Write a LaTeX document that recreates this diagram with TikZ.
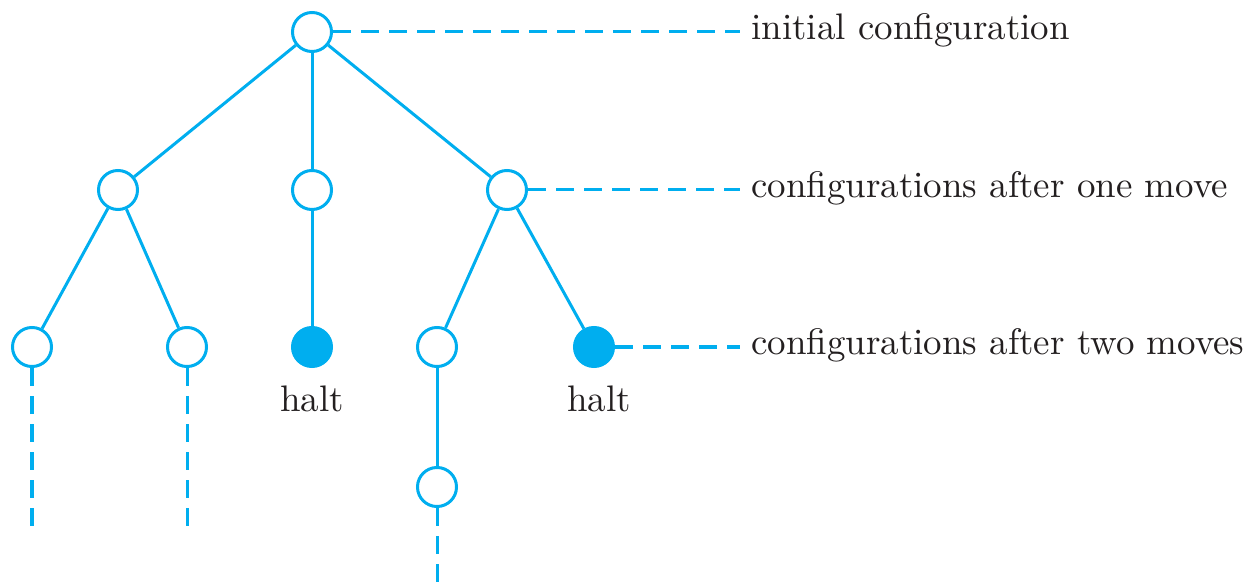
\documentclass[tikz,border=0pt]{standalone}
\usepackage{tikz}
\usetikzlibrary{positioning}
\definecolor{Cyan}{HTML}{00AEEF}
\definecolor{Ink}{HTML}{231F20}

\begin{document}
\begin{tikzpicture}[x=0.01cm,y=-0.01cm,line width=0.03cm,
  conf/.style={circle,draw=Cyan,fill=white,minimum size=0.39cm,inner sep=0pt},
  halted/.style={conf,fill=Cyan},
  move/.style={draw=Cyan},
  open/.style={draw=Cyan,dash pattern=on 0.18cm off 0.1cm},
  levellbl/.style={anchor=mid west,inner sep=0.1cm,text=Ink,font=\fontsize{10.5}{12}\selectfont},
  haltlbl/.style={inner sep=0pt,text=Ink,font=\fontsize{10.5}{12}\selectfont}]
  \useasboundingbox (0,0) rectangle (1257,582);
  \node[conf] (r) at (312,32) {};
  \node[conf] (a) at (118,190) {};
  \node[conf] (b) at (312,190) {};
  \node[conf] (c) at (507,190) {};
  \node[conf] (aa) at (32,347) {};
  \node[conf] (ab) at (187,347) {};
  \node[halted] (ba) at (312,347) {};
  \node[conf] (ca) at (437,347) {};
  \node[halted] (cb) at (594,347) {};
  \node[conf] (caa) at (437,487) {};
  \foreach \p/\q in {r/a,r/b,r/c,a/aa,a/ab,b/ba,c/ca,c/cb,ca/caa}{\draw[move] (\p) -- (\q);}
  % branches that go on
  \coordinate (aa-end) at (32,527);
  \coordinate (ab-end) at (187,527);
  \coordinate (caa-end) at (437,582);
  \foreach \p in {aa,ab,caa}{\draw[open] (\p) -- (\p-end);}
  \node[haltlbl,below=0.16cm of ba] (t1) {halt};
  \node[haltlbl,below=0.16cm of cb,xshift=0.05cm] (t2) {halt};
  \node[levellbl] (l0) at (740,32) {initial configuration};
  \node[levellbl] (l1) at (740,190) {configurations after one move};
  \node[levellbl] (l2) at (740,347) {configurations after two moves};
  \draw[open] (r) -- (l0.mid west);
  \draw[open] (c) -- (l1.mid west);
  \draw[open] (cb) -- (l2.mid west);
\end{tikzpicture}
\end{document}
